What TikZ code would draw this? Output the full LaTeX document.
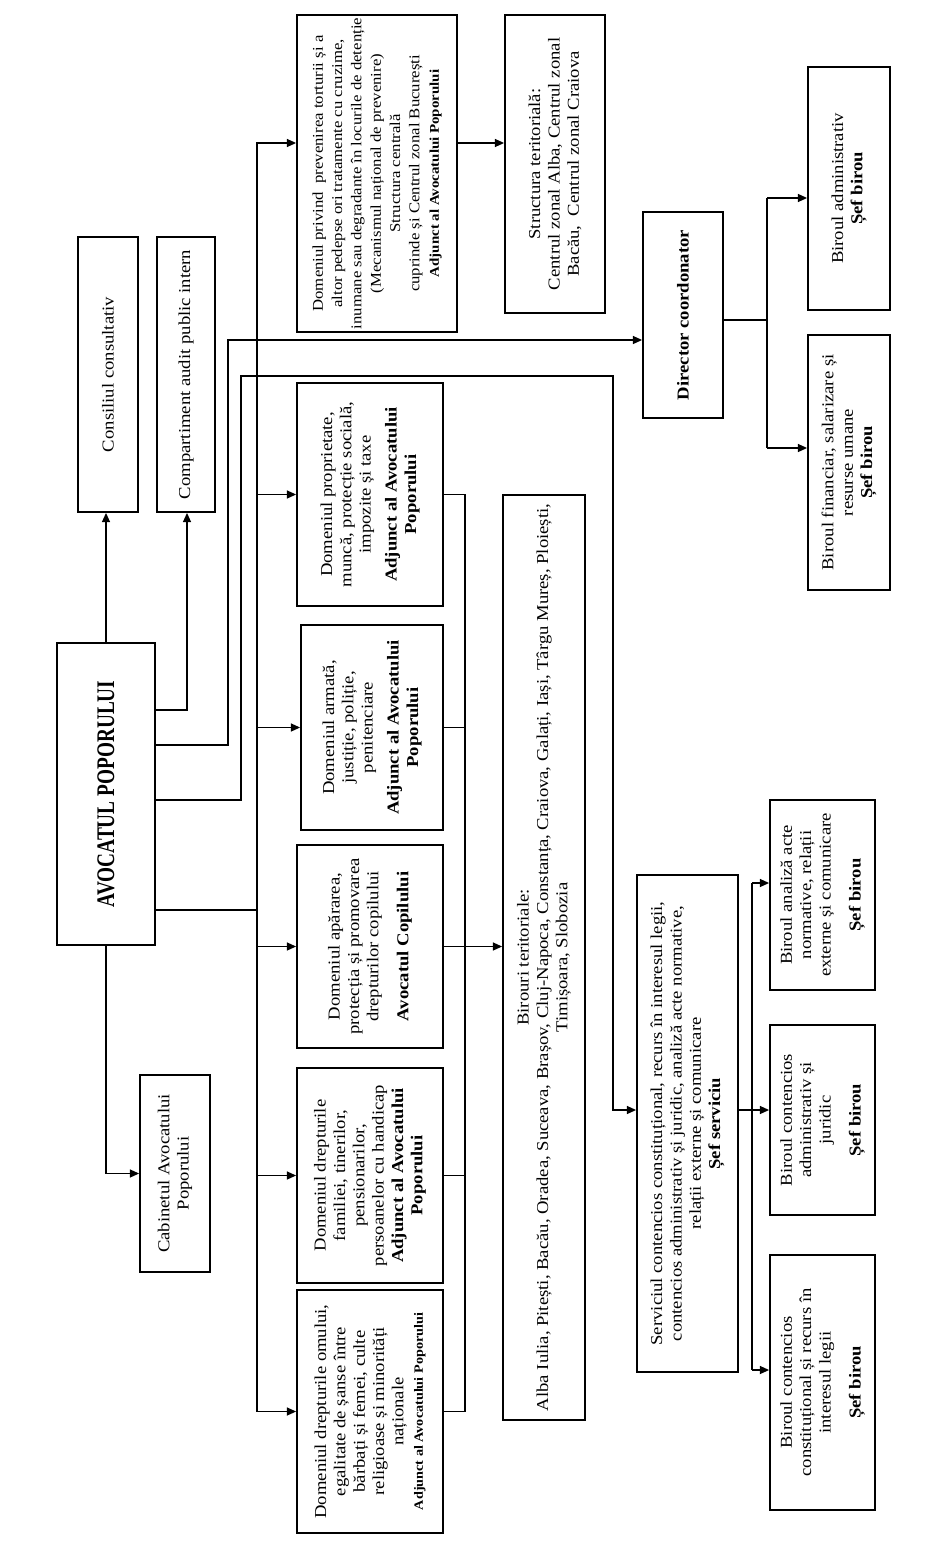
\documentclass[tikz,border=0pt]{standalone}
\usepackage{fontspec}
\usepackage{graphicx}
\setmainfont{Liberation Serif}[FakeStretch=1.12]
\usetikzlibrary{arrows.meta,calc}
\newcommand\bodyf{\fontsize{12.5}{14.5}\selectfont}
\tikzset{
 boxst/.style={draw, line width=1.3pt, rectangle, inner sep=0pt},
 txtst/.style={rotate=90, align=center, font=\bodyf, inner sep=0pt},
 conn/.style={line width=1.2pt},
 arr/.style={conn, -{Triangle[length=7pt,width=6pt]}},
}
\newcommand\orgbox[7][]{%
 \pgfmathsetmacro\obw{(#4-#3)*0.75}%
 \pgfmathsetmacro\obh{(#6-#5)*0.75}%
 \node[boxst, minimum width=\obw pt, minimum height=\obh pt] (#2) at ({(#3+#4)/2},{(#5+#6)/2}) {};%
 \node[txtst,#1] at (#2.center) {#7};}
\begin{document}
\begin{tikzpicture}[x=0.75pt,y=-0.75pt]
\fill[white] (0,0) rectangle (950,1548);
\useasboundingbox (0,0) rectangle (950,1548);

% boxes
\orgbox[font=\fontsize{19}{21}\selectfont\bfseries]{avp}{57}{155}{643}{945}{\scalebox{0.68}[1]{AVOCATUL POPORULUI}}
\orgbox{cons}{78}{138}{237}{512}{Consiliul consultativ}
\orgbox{audit}{157}{215}{237}{512}{Compartiment audit public intern}
\orgbox{cab}{140}{210}{1075}{1272}{Cabinetul Avocatului\\Poporului}
\orgbox[font=\fontsize{11.2}{14.5}\selectfont]{tort}{297}{457}{15}{332}{Domeniul privind\ \ prevenirea torturii și a\\
altor pedepse ori tratamente cu cruzime,\\
inumane sau degradante în locurile de detenție\\
(Mecanismul național de prevenire)\\
Structura centrală\\
cuprinde și Centrul zonal București\\
{\fontsize{10}{12}\selectfont\bfseries Adjunct al Avocatului Poporului}}
\orgbox{stt}{505}{605}{15}{313}{Structura teritorială:\\Centrul zonal Alba, Centrul zonal\\Bacău,\ \ Centrul zonal Craiova}
\orgbox{prop}{297}{443}{383}{606}{Domeniul proprietate,\\muncă, protecție socială,\\impozite și taxe\\[5pt]\textbf{Adjunct al Avocatului}\\\textbf{Poporului}}
\orgbox{arm}{301}{443}{625}{830}{Domeniul armată,\\justiție, poliție,\\penitenciare\\[5pt]\textbf{Adjunct al Avocatului}\\\textbf{Poporului}}
\orgbox{copil}{297}{443}{845}{1048}{Domeniul apărarea,\\protecția și promovarea\\drepturilor copilului\\[8pt]\textbf{Avocatul Copilului}}
\orgbox{fam}{297}{443}{1068}{1283}{Domeniul drepturile\\familiei, tinerilor,\\pensionarilor,\\persoanelor cu handicap\\\textbf{Adjunct al Avocatului}\\\textbf{Poporului}}
\orgbox{om}{297}{443}{1290}{1533}{Domeniul drepturile omului,\\egalitate de șanse între\\bărbați și femei, culte\\religioase și minorități\\naționale\\{\fontsize{9.5}{12}\selectfont\bfseries Adjunct al Avocatului Poporului}}
\orgbox{bir}{503}{585}{495}{1420}{Birouri teritoriale:\\Alba Iulia, Pitești, Bacău, Oradea, Suceava, Brașov, Cluj-Napoca, Constanța, Craiova, Galați, Iași, Târgu Mureș, Ploiești,\\Timișoara, Slobozia}
\orgbox{dir}{643}{723}{212}{418}{\textbf{Director coordonator}}
\orgbox{badm}{808}{890}{67}{310}{Biroul administrativ\\\textbf{Șef birou}}
\orgbox{bfin}{808}{890}{335}{590}{Biroul financiar, salarizare și\\resurse umane\\\textbf{Șef birou}}
\orgbox{serv}{637}{738}{875}{1372}{Serviciul contencios constituțional, recurs în interesul legii,\\contencios administrativ și juridic, analiză acte normative,\\relații externe și comunicare\\\textbf{Șef serviciu}}
\orgbox{bA}{770}{875}{800}{990}{Biroul analiză acte\\normative, relații\\externe și comunicare\\[8pt]\textbf{Șef birou}}
\orgbox{bB}{770}{875}{1025}{1215}{Biroul contencios\\administrativ și\\juridic\\[8pt]\textbf{Șef birou}}
\orgbox{bC}{770}{875}{1255}{1510}{Biroul contencios\\constituțional și recurs în\\interesul legii\\[8pt]\textbf{Șef birou}}

% junction coordinates
\coordinate (yA) at (187,710);
\coordinate (yD) at (228,745);
\coordinate (jd) at (228,340);
\coordinate (yS) at (241,800);
\coordinate (js1) at (241,376);
\coordinate (js2) at (613,376);
\coordinate (sIn) at (613,1110);
\coordinate (tj) at (257,910);
\coordinate (tT) at (257,143);
\coordinate (cl) at (465,0);
\coordinate (dO) at (767,320);
\coordinate (dA) at (767,198);
\coordinate (dB) at (767,448);
\coordinate (sA) at (752,883);
\coordinate (sB) at (752,1110);
\coordinate (sC) at (752,1370);

% connectors from Avocatul Poporului
\draw[arr] (avp.north) -- (avp.north |- cons.south);
\draw[arr] (avp.south) |- (cab.west);
\draw[arr] (yA -| avp.east) -- (yA) -- (yA |- audit.south);
\draw[arr] (yD -| avp.east) -- (yD) -- (jd) -- (jd -| dir.west);
\draw[arr] (yS -| avp.east) -- (yS) -- (js1) -- (js2) -- (sIn) -- (sIn -| serv.west);
\draw[conn] (tj -| avp.east) -- (tj);

% trunk to domains
\draw[arr] (tj) -- (tT) -- (tT -| tort.west);
\foreach \b in {prop,arm,copil,fam,om} \draw[arr] (tj) |- (\b.west);
\draw[arr] (tT -| tort.east) -- (tT -| stt.west);

% collector to Birouri teritoriale
\draw[conn] (prop.east) -| (cl |- om.east) -- (om.east);
\foreach \b in {arm,copil,fam} \draw[conn] (\b.east) -- (\b.east -| cl);
\draw[arr] (copil.east -| cl) -- (copil.east -| bir.west);

% Director coordonator branch
\draw[conn] (dO -| dir.east) -- (dO);
\draw[conn] (dA) -- (dB);
\draw[arr] (dA) -- (dA -| badm.west);
\draw[arr] (dB) -- (dB -| bfin.west);

% Serviciu branch
\draw[conn] (sB -| serv.east) -- (sB);
\draw[conn] (sA) -- (sC);
\draw[arr] (sA) -- (sA -| bA.west);
\draw[arr] (sB) -- (sB -| bB.west);
\draw[arr] (sC) -- (sC -| bC.west);
\end{tikzpicture}
\end{document}
